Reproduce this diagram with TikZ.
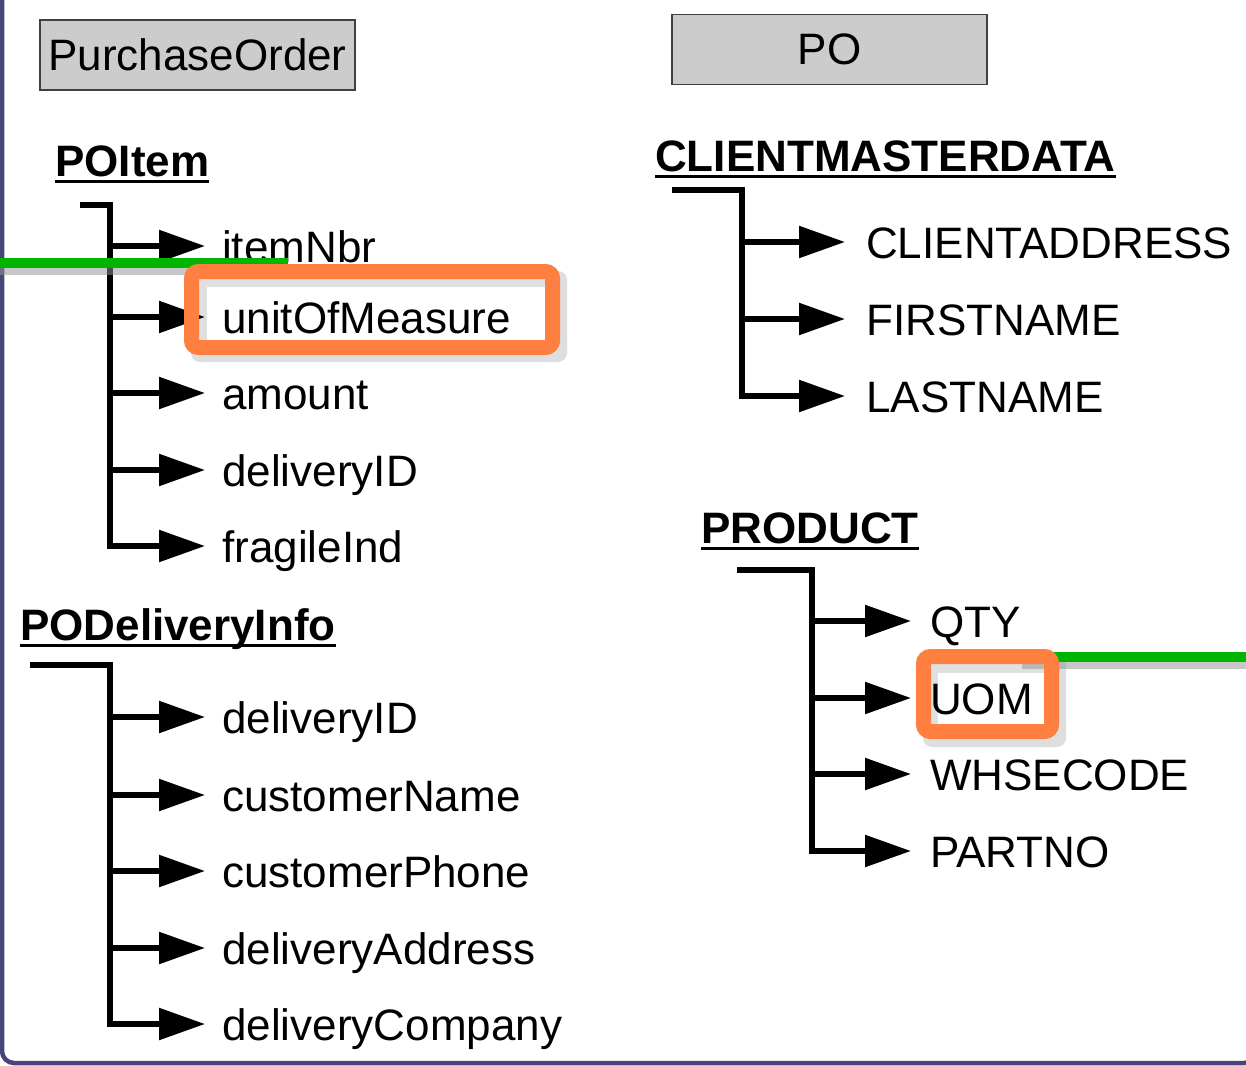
\documentclass[tikz,border=0pt]{standalone}
\usepackage{fontspec}
\setmainfont{Liberation Sans}
\usetikzlibrary{arrows.meta}
\definecolor{framecol}{HTML}{464678}
\definecolor{boxgray}{HTML}{CCCCCC}
\definecolor{hlorange}{HTML}{FF7F40}
\definecolor{hlgreen}{HTML}{00B400}
\definecolor{bandgray}{HTML}{E0E0E0}
\pgfdeclarelayer{back}
\pgfdeclarelayer{over}
\pgfdeclarelayer{top}
\pgfsetlayers{back,main,over,top}
\begin{document}
\begin{tikzpicture}[x=1pt,y=-1pt,
  txt/.style={anchor=west,inner sep=0pt,text height=32pt,text depth=0pt,font=\fontsize{44}{48}\selectfont},
  hdr/.style={anchor=west,inner sep=0pt,text height=32pt,text depth=0pt,font=\fontsize{44}{48}\selectfont\bfseries},
  titlebox/.style={draw=black!75,fill=boxgray,line width=1.5pt,font=\fontsize{44}{48}\selectfont,minimum width=315pt,minimum height=70pt,inner sep=0pt},
  tree/.style={line width=5.5pt,black},
  arr/.style={tree,-{Triangle[length=46pt,width=31pt]}},
  uline/.style={line width=3pt,black},
  hlbox/.style={draw=hlorange,line width=15pt,rounded corners=7pt},
  hlfill/.style={fill=bandgray,rounded corners=7pt},
  hlshadow/.style={fill=black,opacity=0.13,rounded corners=9pt},
  field/.style={fill=white},
  gline/.style={line width=10pt,hlgreen},
  gshadow/.style={line width=10pt,black!42,opacity=0.52}]
\useasboundingbox (0,0) rectangle (1246,1065);

% ---------- back layer: frame, highlight shadows and fills ----------
\begin{pgfonlayer}{back}
  \draw[framecol,line width=4.5pt,rounded corners=12pt] (2,-14) rectangle (1256,1063);
  \fill[hlshadow] (191,271) rectangle (567,362);
  \fill[hlshadow] (923,656) rectangle (1066,747);
  \fill[hlfill] (191.5,271.5) rectangle (552.5,347.5);
  \fill[hlfill] (923.5,656.5) rectangle (1051.5,731.5);
\end{pgfonlayer}

% ---------- top layer: highlighted fields ----------
\begin{pgfonlayer}{top}
  \fill[field] (207,287) rectangle (546,340);
  \fill[field] (938,673) rectangle (1044,724);
  \node[txt] (c12) at (222,317) {unitOfMeasure};
  \node[txt] (p2) at (930,698) {UOM};
  \draw[gshadow] (1022,664) -- (1246,664);
  \draw[gline] (1043,657) -- (1246,657);
  \draw[hlbox] (191.5,271.5) rectangle (552.5,347.5);
  \draw[hlbox] (923.5,656.5) rectangle (1051.5,731.5);
\end{pgfonlayer}

% ---------- title boxes ----------
\node[titlebox] (po1) at (197.5,55) {PurchaseOrder};
\node[titlebox] (po2) at (829.5,49.5) {PO};

% ---------- headers ----------
\node[hdr] (h1) at (55,160) {POItem};
\node[hdr] (h2) at (20,624) {PODeliveryInfo};
\node[hdr] (h3) at (655,155) {CLIENTMASTERDATA};
\node[hdr] (h4) at (701,527) {PRODUCT};
\foreach \h in {h1,h2,h3,h4}{
  \draw[uline] ([yshift=-5pt]\h.south west) -- ([yshift=-5pt]\h.south east);
}

% ---------- POItem tree ----------
\coordinate (s1) at (80,205);
\coordinate (t1) at (110,205);
\node[txt] (c11) at (222,246) {itemNbr};
\node[txt] (c13) at (222,393) {amount};
\node[txt] (c14) at (222,470) {deliveryID};
\node[txt] (c15) at (222,546) {fragileInd};
\foreach \c in {c11,c12,c13,c14}{
  \draw[arr] (t1 |- \c) -- ([xshift=-17pt]\c.west);
}
\draw[arr] (s1) -- (t1) -- (t1 |- c15) -- ([xshift=-17pt]c15.west);

% ---------- PODeliveryInfo tree ----------
\coordinate (s2) at (30,665);
\coordinate (t2) at (110,665);
\node[txt] (d1) at (222,717) {deliveryID};
\node[txt] (d2) at (222,795) {customerName};
\node[txt] (d3) at (222,871) {customerPhone};
\node[txt] (d4) at (222,948) {deliveryAddress};
\node[txt] (d5) at (222,1024) {deliveryCompany};
\foreach \c in {d1,d2,d3,d4}{
  \draw[arr] (t2 |- \c) -- ([xshift=-17pt]\c.west);
}
\draw[arr] (s2) -- (t2) -- (t2 |- d5) -- ([xshift=-17pt]d5.west);

% ---------- CLIENTMASTERDATA tree ----------
\coordinate (s3) at (672,190);
\coordinate (t3) at (742,190);
\node[txt] (m1) at (866,242) {CLIENTADDRESS};
\node[txt] (m2) at (866,319) {FIRSTNAME};
\node[txt] (m3) at (866,396) {LASTNAME};
\foreach \c in {m1,m2}{
  \draw[arr] (t3 |- \c) -- ([xshift=-21pt]\c.west);
}
\draw[arr] (s3) -- (t3) -- (t3 |- m3) -- ([xshift=-21pt]m3.west);

% ---------- PRODUCT tree ----------
\coordinate (s4) at (737,570);
\coordinate (t4) at (812,570);
\node[txt] (p1) at (930,621) {QTY};
\node[txt] (p3) at (930,774) {WHSECODE};
\node[txt] (p4) at (930,851) {PARTNO};
\foreach \c in {p1,p2,p3}{
  \draw[arr] (t4 |- \c) -- ([xshift=-19pt]\c.west);
}
\draw[arr] (s4) -- (t4) -- (t4 |- p4) -- ([xshift=-19pt]p4.west);

% ---------- left green link ----------
\begin{pgfonlayer}{over}
  \draw[gshadow] (0,270) -- (296,270);
  \draw[gline] (0,263) -- (288,263);
\end{pgfonlayer}
\end{tikzpicture}
\end{document}
